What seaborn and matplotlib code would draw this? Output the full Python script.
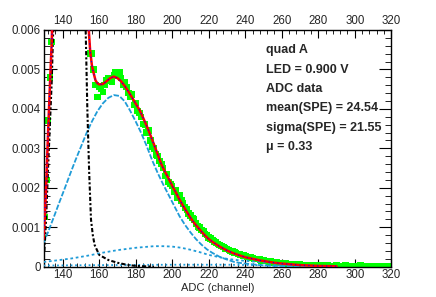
import matplotlib
matplotlib.use('Agg')
import matplotlib.pyplot as plt
import seaborn as sns
from matplotlib.ticker import MultipleLocator, FuncFormatter

# ADC histogram (1 channel bins)
data_x = list(range(129, 321))
data_y = [
    0.00073, 0.00126, 0.0022, 0.0037, 0.0048, 0.0057, 0.0078, 0.0125, 0.0195, 0.028,
    0.037, 0.045, 0.052, 0.057, 0.060, 0.061, 0.058, 0.054, 0.048, 0.041,
    0.033, 0.025, 0.018, 0.012, 0.0085, 0.0064, 0.0054, 0.0054, 0.0050, 0.0046,
    0.0043, 0.00455, 0.0045, 0.00443, 0.0046, 0.00472, 0.00478, 0.00475, 0.00468, 0.00485,
    0.00492, 0.00488, 0.00493, 0.00478, 0.00462, 0.00468, 0.00455, 0.0044, 0.0043, 0.00437,
    0.0041, 0.00415, 0.00395, 0.0039, 0.0038, 0.00362, 0.0036, 0.0034, 0.00345, 0.0032,
    0.00305, 0.0030, 0.00285, 0.0028, 0.00268, 0.0026, 0.0025, 0.0023, 0.00235, 0.00215,
    0.0021, 0.00205, 0.0019, 0.00195, 0.00175, 0.0018, 0.00168, 0.0016, 0.0015, 0.00145,
    0.00135, 0.0013, 0.00124, 0.0012, 0.0011, 0.00102, 0.0010, 0.00093, 0.0009, 0.00083,
    0.0008, 0.00074, 0.00072, 0.00068, 0.00064, 0.00062, 0.00058, 0.00055, 0.00053, 0.0005,
    0.00046, 0.00045, 0.00042, 0.0004, 0.00038, 0.00036, 0.00035, 0.00032, 0.00031, 0.0003,
    0.00028, 0.00027, 0.00025, 0.00024, 0.00023, 0.00022, 0.0002, 0.0002, 0.00019, 0.00018,
    0.00016, 0.00016, 0.00015, 0.00014, 0.00013, 0.00013, 0.00012, 0.00011, 0.00011, 0.0001,
    0.0001, 0.00009, 0.00008, 0.00008, 0.00007, 0.00007, 0.00006, 0.00006, 0.00006, 0.00005,
    0.00005, 0.00005, 0.00004, 0.00004, 0.00004, 0.00003, 0.00004, 0.00003, 0.00003, 0.00003,
    0.00002, 0.00003, 0.00002, 0.00003, 0.00002, 0.00002, 0.00003, 0.00002, 0.0, 0.00002,
    0.00002, 0.00003, 0.00002, 0.00002, 0.0, 0.00002, 0.00003, 0.00002, 0.00002, 0.00001,
    0.00002, 0.00002, 0.0, 0.00002, 0.00003, 0.00002, 0.00002, 0.00001, 0.00002, 0.00002,
    0.0, 0.00002, 0.00002, 0.00001, 0.00002, 0.00002, 0.00002, 0.00001, 0.00002, 0.00002,
    0.00002, 0.00002,
]

# total fit
fit_x = [129.5, 130, 131, 132, 133, 134, 135, 137, 139, 141, 143, 145, 147, 149, 151,
         152.5, 153.5, 154.3, 155, 156, 157, 158, 159, 160, 162, 164, 166, 168, 170, 172,
         174, 176, 178, 180, 182, 184, 186, 188, 190, 192, 194, 196, 198, 200, 202, 204,
         206, 208, 210, 212, 214, 216, 218, 220, 222, 224, 226, 228, 230, 233, 236, 240,
         244, 248, 252, 256, 260, 265, 270, 275, 280, 290]
fit_y = [0.0007, 0.0011, 0.0021, 0.0034, 0.0046, 0.0057, 0.0075, 0.020, 0.036, 0.052, 0.061,
         0.059, 0.049, 0.033, 0.018, 0.0095, 0.0072, 0.0060, 0.0055, 0.0051, 0.0049, 0.00472,
         0.00465, 0.00462, 0.00463, 0.0047, 0.00478, 0.00482, 0.00478, 0.0047, 0.00458, 0.00444,
         0.00429, 0.00413, 0.00398, 0.00378, 0.00357, 0.00334, 0.0031, 0.00285, 0.0026, 0.00241,
         0.00224, 0.00205, 0.00188, 0.0017, 0.00154, 0.00139, 0.00124, 0.00111, 0.0010, 0.00089,
         0.00079, 0.0007, 0.00063, 0.00057, 0.00051, 0.00046, 0.00041, 0.00035, 0.0003, 0.00024,
         0.0002, 0.00016, 0.00013, 0.0001, 0.00008, 0.00006, 0.00004, 0.00003, 0.00002, 0.00001]

# pedestal
ped_x = [130, 131, 132, 133, 134, 135, 137, 139, 141, 143, 145, 147, 149, 151, 152.5,
         153.5, 154.5, 155.5, 156.5, 157.5, 160, 165, 170, 175, 180, 185, 190]
ped_y = [0.0004, 0.0013, 0.0025, 0.0036, 0.0047, 0.0063, 0.0185, 0.034, 0.050, 0.059, 0.057,
         0.047, 0.031, 0.016, 0.0062, 0.0040, 0.0024, 0.0012, 0.0008, 0.00055, 0.0003, 0.00017,
         0.0001, 0.00005, 0.00002, 0.00001, 0.0]

# 1 p.e.
spe1_x = [129.5, 132, 135, 138, 141, 144, 147, 150, 153, 156, 159, 162, 165, 168, 171, 174,
          177, 180, 183, 186, 189, 192, 195, 198, 201, 204, 207, 210, 213, 216, 219, 222,
          226, 230, 234, 238, 242, 248, 255, 265, 290]
spe1_y = [0.00059, 0.00088, 0.00124, 0.00161, 0.00197, 0.00234, 0.0027, 0.00304, 0.00338,
          0.00368, 0.00394, 0.00414, 0.00428, 0.00435, 0.00433, 0.00419, 0.00395, 0.00368,
          0.00339, 0.00306, 0.0027, 0.00238, 0.00209, 0.00182, 0.00155, 0.00128, 0.00106,
          0.00087, 0.0007, 0.00056, 0.00044, 0.00035, 0.00025, 0.00018, 0.00012, 0.00009,
          0.00007, 0.00004, 0.00002, 0.00001, 0.0]

# 2 p.e.
spe2_x = [129.5, 135, 140, 145, 150, 155, 160, 165, 170, 175, 180, 185, 190, 195, 200, 205,
          210, 215, 220, 225, 230, 235, 240, 245, 250, 260, 270, 280, 290]
spe2_y = [0.00012, 0.00015, 0.00018, 0.00021, 0.00025, 0.00029, 0.00034, 0.00038, 0.00042,
          0.00045, 0.00048, 0.0005, 0.00052, 0.00052, 0.00051, 0.00048, 0.00043, 0.00037,
          0.0003, 0.00025, 0.0002, 0.00017, 0.00015, 0.00013, 0.00011, 0.00006, 0.00003,
          0.00002, 0.00001]

# 3 p.e.
spe3_x = [129.5, 160, 200, 230, 260, 290]
spe3_y = [0.00003, 0.00004, 0.00005, 0.00005, 0.00003, 0.00001]

info = ['quad A', 'LED = 0.900 V', 'ADC data', 'mean(SPE) = 24.54',
        'sigma(SPE) = 21.55', 'μ = 0.33']

sns.set_style('ticks')
plt.rcParams['font.family'] = ['Liberation Sans', 'DejaVu Sans']

fig = plt.figure(figsize=(4.36, 2.97), dpi=100)
ax = fig.add_axes([0.0998, 0.102, 0.7977, 0.797])

sky = '#1f9bd7'
sns.scatterplot(x=data_x, y=data_y, ax=ax, marker='s', s=22, color='#00ff00',
                edgecolor='none', linewidth=0, zorder=2)
sns.lineplot(x=spe3_x, y=spe3_y, ax=ax, color=sky, lw=1.3, linestyle=(0, (1, 1.5)), zorder=3)
sns.lineplot(x=spe2_x, y=spe2_y, ax=ax, color=sky, lw=1.3, linestyle=(0, (1.5, 1.5)), zorder=3)
sns.lineplot(x=spe1_x, y=spe1_y, ax=ax, color=sky, lw=1.3, linestyle=(0, (3, 1)), zorder=3)
sns.lineplot(x=ped_x, y=ped_y, ax=ax, color='black', lw=1.5,
             linestyle=(0, (2, 1, 1, 1)), zorder=4)
sns.lineplot(x=fit_x, y=fit_y, ax=ax, color='#ff0000', lw=1.8, zorder=5)
sns.lineplot(x=fit_x, y=fit_y, ax=ax, color='#0000ff', lw=0.8,
             linestyle=(0, (1, 3)), zorder=6)

ax.set_xlim(129.5, 320)
ax.set_ylim(0, 0.006)
ax.xaxis.set_major_locator(MultipleLocator(20))
ax.xaxis.set_minor_locator(MultipleLocator(4))
ax.yaxis.set_major_locator(MultipleLocator(0.001))
ax.yaxis.set_minor_locator(MultipleLocator(0.0002))
ax.yaxis.set_major_formatter(FuncFormatter(lambda v, p: '%g' % round(v, 4)))
ax.tick_params(which='both', direction='in', top=True, right=True,
               labeltop=True, labelright=False, labelsize=8.3, pad=2, color='black')
ax.tick_params(axis='x', which='major', length=6)
ax.tick_params(axis='x', which='minor', length=3)
ax.tick_params(axis='y', which='major', length=9)
ax.tick_params(axis='y', which='minor', length=4.5)
for s in ax.spines.values():
    s.set_linewidth(1)
    s.set_color('black')

ax.set_xlabel('ADC (channel)', fontsize=8, labelpad=1)
ax.set_ylabel('')

ys = [0.9155, 0.831, 0.751, 0.670, 0.586, 0.506]
for t, yy in zip(info, ys):
    ax.text(0.64, yy, t, transform=ax.transAxes, fontsize=9, fontweight='bold',
            va='center', ha='left')

fig.savefig('out.png', dpi=100)
